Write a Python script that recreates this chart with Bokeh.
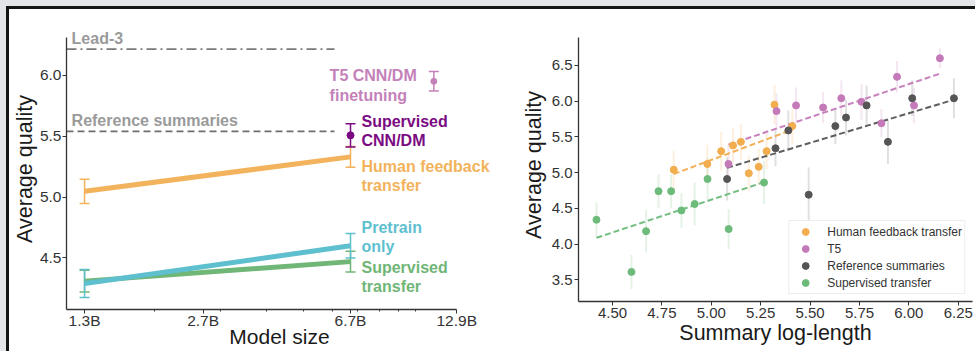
import numpy as np
from bokeh.plotting import figure
from bokeh.models import (ColumnDataSource, Whisker, TeeHead, Label, FixedTicker,
                          CustomJSTickFormatter, NumeralTickFormatter, Legend, LegendItem)
from bokeh.layouts import row, column
from bokeh.embed import file_html
from bokeh.resources import INLINE

# ---------------- Left panel data ----------------
model_size_b = [1.3, 6.7]
hf_transfer = [5.047, 5.33]
hf_transfer_err = [0.10, 0.085]
pretrain_only = [4.29, 4.60]
pretrain_only_err = [0.115, 0.10]
sup_transfer = [4.31, 4.47]
sup_transfer_err = [0.09, 0.085]
sup_cnndm_size_b = [6.7]
sup_cnndm = [5.507]
sup_cnndm_err = [0.095]
t5_size_b = [11.2]
t5_cnndm = [5.95]
t5_cnndm_err = [0.08]
lead3_quality = 6.214
reference_quality = 5.54
baseline_x_end_b = 6.07
size_ticks_b = [1.3, 2.7, 6.7, 12.9]
size_minor_ticks_b = [2, 3, 4, 5, 6, 7, 8, 9, 10]

# ---------------- Right panel data ----------------
hf_len = [4.81, 4.98, 5.05, 5.11, 5.15, 5.19, 5.24, 5.28, 5.32, 5.41]
hf_q = [5.04, 5.12, 5.30, 5.38, 5.43, 4.99, 5.08, 5.30, 5.95, 5.65]
hf_e = [0.27, 0.27, 0.27, 0.25, 0.25, 0.25, 0.25, 0.25, 0.27, 0.25]
hf_fit_len = [4.81, 5.41]
hf_fit_q = [4.98, 5.60]

t5_len = [5.087, 5.33, 5.429, 5.566, 5.658, 5.76, 5.861, 5.94, 6.026, 6.157]
t5_q = [5.12, 5.86, 5.94, 5.91, 6.04, 5.99, 5.69, 6.34, 5.94, 6.60]
t5_e = [0.25, 0.25, 0.25, 0.22, 0.25, 0.25, 0.20, 0.22, 0.25, 0.14]
t5_fit_len = [5.087, 6.152]
t5_fit_q = [5.39, 6.38]

ref_len = [5.08, 5.325, 5.39, 5.493, 5.628, 5.682, 5.786, 5.894, 6.017, 6.228]
ref_q = [4.91, 5.34, 5.59, 4.69, 5.65, 5.77, 5.94, 5.43, 6.04, 6.04]
ref_e = [0.30, 0.25, 0.28, 0.38, 0.25, 0.25, 0.28, 0.31, 0.25, 0.28]
ref_fit_len = [5.08, 6.228]
ref_fit_q = [5.067, 6.02]

st_len = [4.419, 4.596, 4.67, 4.733, 4.797, 4.849, 4.916, 4.981, 5.088, 5.267]
st_q = [4.34, 3.61, 4.18, 4.74, 4.74, 4.47, 4.56, 4.91, 4.21, 4.86]
st_e = [0.24, 0.24, 0.30, 0.24, 0.24, 0.24, 0.30, 0.30, 0.28, 0.30]
st_fit_len = [4.419, 5.267]
st_fit_q = [4.087, 4.866]

len_ticks = [4.50, 4.75, 5.00, 5.25, 5.50, 5.75, 6.00, 6.25]
q_ticks_right = [3.5, 4.0, 4.5, 5.0, 5.5, 6.0, 6.5]
q_ticks_left = [4.5, 5.0, 5.5, 6.0]

FONT = "Liberation Sans"
C_ORANGE = "#f2b35c"
C_CYAN = "#5ebfcf"
C_GREEN = "#70b676"
C_PURPLE = "#7a0b82"
C_PINK = "#c481b9"
C_GRAY_TXT = "#9a9a9a"

R_ORANGE = "#f2ad4e"
R_PINK = "#c47ab9"
R_GRAY = "#555555"
R_GREEN = "#6dbb7a"


def style_axes(p, tick_font):
    for ax in (p.xaxis, p.yaxis):
        ax.axis_line_color = "#333333"
        ax.axis_line_width = 1.3
        ax.major_tick_line_color = "#333333"
        ax.minor_tick_line_color = "#333333"
        ax.major_tick_out = 4
        ax.major_tick_in = 0
        ax.minor_tick_out = 2
        ax.minor_tick_in = 0
        ax.major_label_text_font = FONT
        ax.major_label_text_font_size = tick_font
        ax.major_label_text_color = "#333333"
        ax.axis_label_text_font = FONT
        ax.axis_label_text_font_size = "21.5px"
        ax.axis_label_text_font_style = "normal"
        ax.axis_label_text_color = "#1a1a1a"
        ax.major_label_standoff = 1
        ax.axis_label_standoff = 0
    p.xgrid.visible = False
    p.ygrid.visible = False


# ================= Left figure =================
p1 = figure(title=None, x_axis_type="log", x_range=(1.163, 16.08), y_range=(4.077, 6.384),
            frame_width=426, frame_height=281,
            min_border_left=55, min_border_right=0, min_border_top=19, min_border_bottom=42,
            output_backend="svg", toolbar_location=None,
            outline_line_color=None, border_fill_color="white", background_fill_color="white")
style_axes(p1, "15.5px")
p1.xaxis.axis_label = "Model size"
p1.yaxis.axis_label = "Average quality"
p1.xaxis.bounds = (1.163, 12.9)
p1.yaxis.bounds = (4.077, 6.31)
p1.xaxis.major_label_standoff = -2
p1.xaxis.axis_label_standoff = -7
p1.xaxis.axis_label_text_font_size = "21px"
p1.xaxis.ticker = FixedTicker(ticks=size_ticks_b, minor_ticks=size_minor_ticks_b)
p1.xaxis.formatter = CustomJSTickFormatter(code="return tick.toFixed(1) + 'B';")
p1.yaxis.ticker = FixedTicker(ticks=q_ticks_left)
p1.yaxis.formatter = NumeralTickFormatter(format="0.0")
p1.yaxis.minor_tick_line_color = None

# baselines
p1.segment(x0=[1.163], y0=[lead3_quality], x1=[baseline_x_end_b], y1=[lead3_quality],
           line_color="#7a7a7a", line_width=1.8, line_dash="10 4 2 4")
p1.segment(x0=[1.163], y0=[reference_quality], x1=[baseline_x_end_b], y1=[reference_quality],
           line_color="#6e6e6e", line_width=1.8, line_dash="7 4")


def add_whisker(p, xs, ys, errs, color, width=1.5, head=10, alpha=1.0):
    src = ColumnDataSource(dict(x=xs, lower=[y - e for y, e in zip(ys, errs)],
                                upper=[y + e for y, e in zip(ys, errs)]))
    w = Whisker(source=src, base="x", lower="lower", upper="upper", dimension="height",
                line_color=color, line_width=width, line_alpha=alpha,
                upper_head=TeeHead(size=head, line_color=color, line_width=width, line_alpha=alpha),
                lower_head=TeeHead(size=head, line_color=color, line_width=width, line_alpha=alpha))
    p.add_layout(w)


add_whisker(p1, model_size_b, hf_transfer, hf_transfer_err, C_ORANGE)
add_whisker(p1, model_size_b, sup_transfer, sup_transfer_err, C_GREEN)
add_whisker(p1, model_size_b, pretrain_only, pretrain_only_err, C_CYAN)
add_whisker(p1, sup_cnndm_size_b, sup_cnndm, sup_cnndm_err, C_PURPLE)
add_whisker(p1, t5_size_b, t5_cnndm, t5_cnndm_err, C_PINK)

p1.line(model_size_b, hf_transfer, line_color=C_ORANGE, line_width=5)
p1.line(model_size_b, sup_transfer, line_color=C_GREEN, line_width=5)
p1.line(model_size_b, pretrain_only, line_color=C_CYAN, line_width=5)
p1.scatter(sup_cnndm_size_b, sup_cnndm, size=7, color=C_PURPLE)
p1.scatter(t5_size_b, t5_cnndm, size=6, color=C_PINK)


def add_label(p, x, y, text, color, size="16px", style="bold"):
    p.add_layout(Label(x=x, y=y, text=text, text_color=color, text_font=FONT,
                       text_font_size=size, text_font_style=style,
                       text_baseline="middle", text_align="left"))


add_label(p1, 1.2, 6.304, "Lead-3", C_GRAY_TXT)
add_label(p1, 1.2, 5.626, "Reference summaries", C_GRAY_TXT)
add_label(p1, 5.89, 6.0, "T5 CNN/DM", C_PINK)
add_label(p1, 5.89, 5.835, "finetuning", C_PINK)
add_label(p1, 7.17, 5.622, "Supervised", C_PURPLE)
add_label(p1, 7.17, 5.466, "CNN/DM", C_PURPLE)
add_label(p1, 7.17, 5.252, "Human feedback", C_ORANGE)
add_label(p1, 7.17, 5.096, "transfer", C_ORANGE)
add_label(p1, 7.17, 4.75, "Pretrain", C_CYAN)
add_label(p1, 7.17, 4.594, "only", C_CYAN)
add_label(p1, 7.17, 4.422, "Supervised", C_GREEN)
add_label(p1, 7.17, 4.265, "transfer", C_GREEN)

# ================= Right figure =================
p2 = figure(title=None, x_range=(4.328, 6.322), y_range=(3.196, 7.016),
            frame_width=394, frame_height=273,
            min_border_left=86, min_border_right=5, min_border_top=19, min_border_bottom=50,
            output_backend="svg", toolbar_location=None,
            outline_line_color=None, border_fill_color="white", background_fill_color="white")
style_axes(p2, "15px")
p2.xaxis.axis_label = "Summary log-length"
p2.yaxis.axis_label = "Average quality"
p2.yaxis.bounds = (3.196, 6.89)
p2.xaxis.major_label_standoff = 2
p2.yaxis.major_label_standoff = 2
p2.yaxis.axis_label_standoff = 3
p2.xaxis.ticker = FixedTicker(ticks=len_ticks)
p2.yaxis.ticker = FixedTicker(ticks=q_ticks_right)
p2.xaxis.formatter = NumeralTickFormatter(format="0.00")
p2.yaxis.formatter = NumeralTickFormatter(format="0.0")

series = [
    ("Human feedback transfer", hf_len, hf_q, hf_e, hf_fit_len, hf_fit_q, R_ORANGE),
    ("T5", t5_len, t5_q, t5_e, t5_fit_len, t5_fit_q, R_PINK),
    ("Reference summaries", ref_len, ref_q, ref_e, ref_fit_len, ref_fit_q, R_GRAY),
    ("Supervised transfer", st_len, st_q, st_e, st_fit_len, st_fit_q, R_GREEN),
]

for name, xs, ys, es, fx, fy, c in series:
    p2.segment(x0=xs, y0=[y - e for y, e in zip(ys, es)], x1=xs,
               y1=[y + e for y, e in zip(ys, es)], line_color=c, line_alpha=0.18, line_width=2)

for name, xs, ys, es, fx, fy, c in series:
    p2.line(fx, fy, line_color=c, line_width=2, line_dash="6 3", line_alpha=0.95)

items = []
for name, xs, ys, es, fx, fy, c in series:
    r = p2.scatter(xs, ys, size=7, fill_color=c, line_color=c)
    items.append(LegendItem(label=name, renderers=[r]))

legend = Legend(items=items, location="bottom_right", margin=7, padding=2, spacing=0,
                label_height=17, glyph_height=17, glyph_width=28, label_standoff=8,
                label_text_font=FONT, label_text_font_size="12px", label_text_color="#333333",
                border_line_color="#dcdcdc", border_line_width=1, background_fill_alpha=0.95)
p2.add_layout(legend)

inner = row(p1, p2, margin=(6, 0, 0, 6),
            styles={"border-top": "3px solid #141414", "border-left": "3px solid #141414",
                    "background-color": "white"})
layout = column(inner, styles={"background-color": "#e3e5e8"})

open("out.html", "w").write(file_html(layout, INLINE))
